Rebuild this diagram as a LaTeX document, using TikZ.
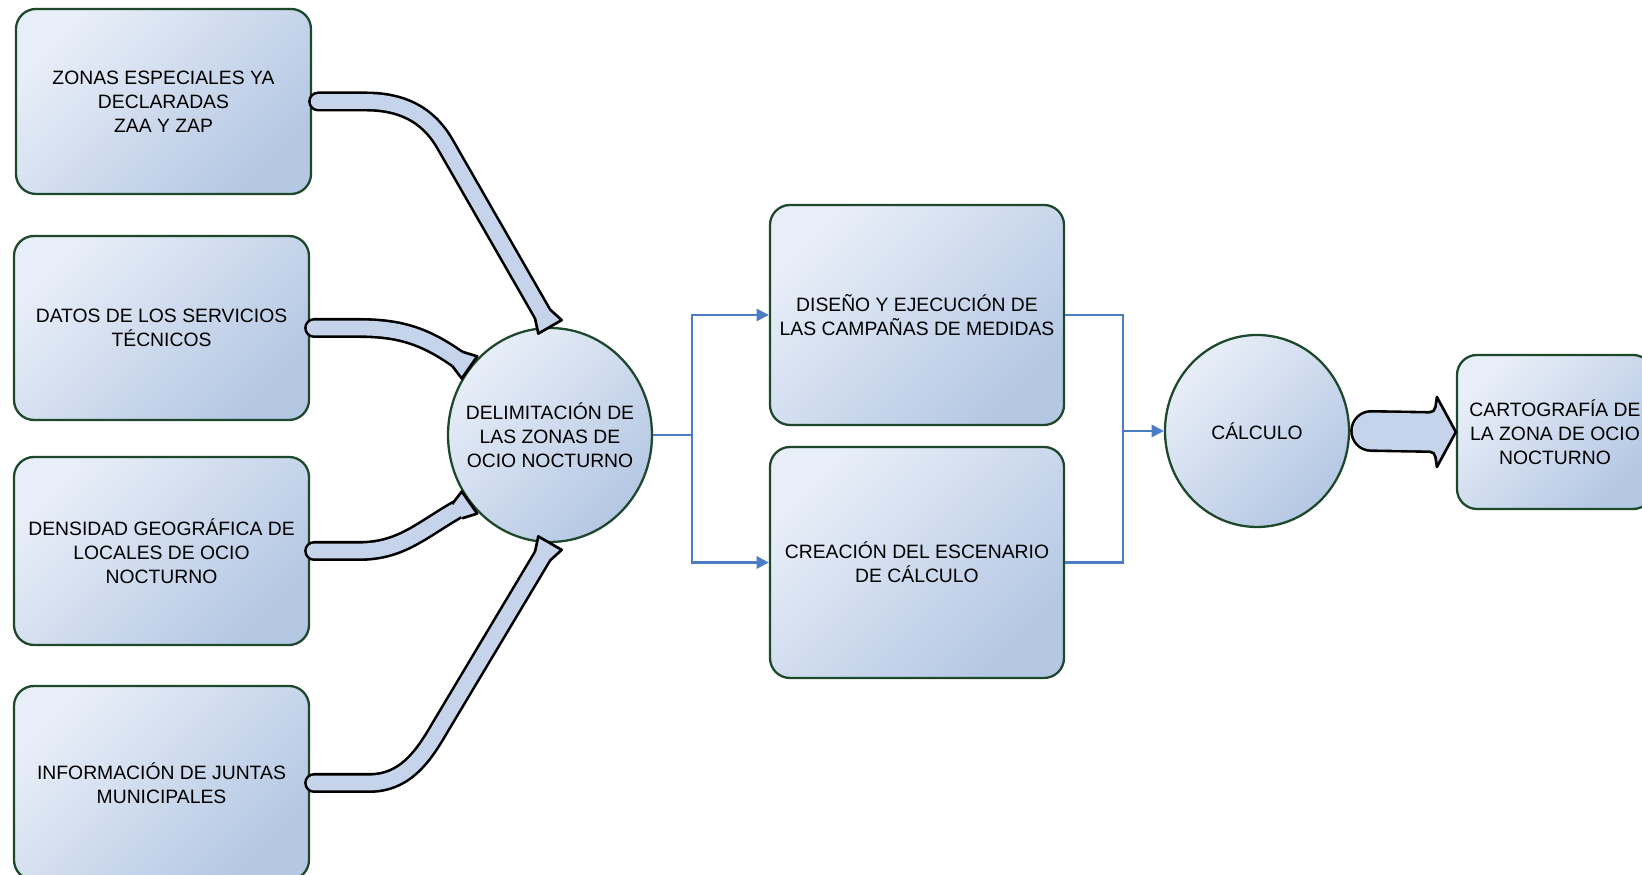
\documentclass[tikz,border=0pt]{standalone}
\usepackage{fontspec}
\setmainfont{Liberation Sans}
\usetikzlibrary{shapes.geometric,arrows.meta,calc}

\definecolor{boxlight}{RGB}{232,238,248}
\definecolor{boxdark}{RGB}{180,199,227}
\definecolor{boxline}{RGB}{30,72,44}
\definecolor{linkblue}{RGB}{74,125,197}
\definecolor{arrfill}{RGB}{198,212,235}

\tikzset{
  boxtext/.style={align=center, font=\fontsize{11}{13.6}\selectfont},
  zonebox/.style={boxtext, draw=boxline, line width=1.3pt, rounded corners=0.4cm,
    top color=boxlight, bottom color=boxdark, shading angle=45},
  zoneoval/.style={zonebox, ellipse, sharp corners},
  link/.style={draw=linkblue, line width=1.4pt},
  linkarrow/.style={link, -{Triangle[length=7pt,width=7pt]}},
  flowshaft/.style={preaction={draw=black, line width=0.4cm, line cap=round},
    draw=arrfill, line width=0.296cm, line cap=round},
  bigshaft/.style={preaction={draw=black, line width=0.84cm, line cap=round},
    draw=arrfill, line width=0.736cm, line cap=round},
  flowhead/.style={fill=arrfill, draw=black, line width=1.5pt, line join=round}
}

\begin{document}
\begin{tikzpicture}
%\draw[step=1cm,gray,very thin] (0,0) grid (33,18);
\useasboundingbox (0,0) rectangle (32.84,17.5);

\node[zonebox, minimum width=5.9cm, minimum height=3.7cm] (zonas) at (3.27,15.47) {ZONAS ESPECIALES YA\\DECLARADAS\\ZAA Y ZAP};

\node[zonebox, minimum width=5.9cm, minimum height=3.68cm] (datos) at (3.23,10.94) {DATOS DE LOS SERVICIOS\\TÉCNICOS};

\node[zonebox, minimum width=5.9cm, minimum height=3.76cm] (densidad) at (3.23,6.48) {DENSIDAD GEOGRÁFICA DE\\LOCALES DE OCIO\\NOCTURNO};

\node[zonebox, minimum width=5.9cm, minimum height=3.88cm] (juntas) at (3.23,1.84) {INFORMACIÓN DE JUNTAS\\MUNICIPALES};

\node[zoneoval, minimum width=4.08cm, minimum height=4.28cm] (delim) at (11.0,8.80) {};
\node[boxtext] (delimtext) at (delim.center) {DELIMITACIÓN DE\\LAS ZONAS DE\\OCIO NOCTURNO};

\node[zonebox, minimum width=5.88cm, minimum height=4.4cm] (diseno) at (18.34,11.2) {DISEÑO Y EJECUCIÓN DE\\LAS CAMPAÑAS DE MEDIDAS};

\node[zonebox, minimum width=5.88cm, minimum height=4.62cm] (creacion) at (18.34,6.25) {CREACIÓN DEL ESCENARIO\\DE CÁLCULO};

\node[zoneoval, minimum width=3.68cm, minimum height=3.84cm] (calc) at (25.14,8.88) {CÁLCULO};

\node[zonebox, minimum width=3.92cm, minimum height=3.08cm] (carto) at (31.1,8.86) {CARTOGRAFÍA DE\\LA ZONA DE OCIO\\NOCTURNO};

% lineas azules
\coordinate (split) at ($(delim.east)+(0.78,0)$);
\draw[link] (delim.east) -- (split);
\draw[linkarrow] (split) |- (diseno.west);
\draw[linkarrow] (split) |- (creacion.west);

\coordinate (merge) at ($(calc.west)+(-0.82,0)$);
\draw[link] (diseno.east) -| (merge);
\draw[link] (creacion.east) -| (merge);
\draw[linkarrow] (merge) -- (calc.west);

% flechas gruesas
\draw[flowshaft] ($(zonas.east)+(0.12,0)$) -- ++(0.95,0) to[out=0,in=120] (8.9,14.62) -- ($(delim.north)+(120:0.3)$);
\filldraw[flowhead, shift={(delim.north)}, rotate=-60] (-0.3,0.174) -- (0,0.27) -- (0,-0.27) -- (-0.3,-0.174);

\draw[flowshaft] ($(datos.east)+(0.08,0)$) -- ++(0.9,0) to[out=0,in=145] ($(delim.140)+(145:0.3)$);
\filldraw[flowhead, shift={(delim.140)}, rotate=-35] (-0.3,0.174) -- (0,0.27) -- (0,-0.27) -- (-0.3,-0.174);

\draw[flowshaft] ($(densidad.east)+(0.08,0)$) -- ++(0.9,0) to[out=0,in=210] ($(delim.220)+(210:0.3)$);
\filldraw[flowhead, shift={(delim.220)}, rotate=35] (-0.3,0.174) -- (0,0.27) -- (0,-0.27) -- (-0.3,-0.174);

\draw[flowshaft] ($(juntas.east)+(0.08,0)$) -- ++(1.1,0) to[out=0,in=-120] (8.8,2.95) -- ($(delim.south)+(-120:0.3)$);
\filldraw[flowhead, shift={(delim.south)}, rotate=60] (-0.3,0.174) -- (0,0.27) -- (0,-0.27) -- (-0.3,-0.174);

\draw[bigshaft] ($(calc.east)+(0.42,0)$) -- ($(carto.west)+(-0.52,0)$);
\filldraw[flowhead, shift={(carto.west)}] (-0.52,0.394) to[out=0,in=-100] (-0.38,0.7) -- (0,0) -- (-0.38,-0.7) to[out=100,in=0] (-0.52,-0.394);

\end{tikzpicture}
\end{document}
